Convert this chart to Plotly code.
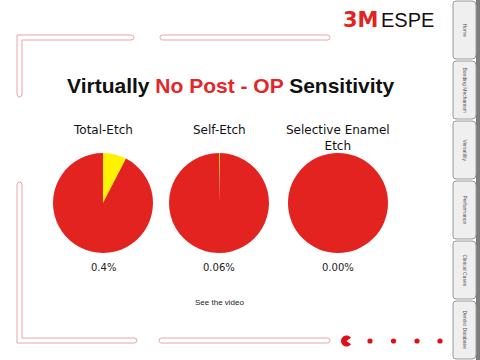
import math
import plotly.graph_objects as go

# ---------------- data ----------------
categories = ["Total-Etch", "Self-Etch", "Selective Enamel<br>Etch"]
sensitive_share = [7.6, 0.3, 0.0]          # visible slice size of post-op sensitivity (%)
reported_labels = ["0.4%", "0.06%", "0.00%"]
slice_names = ["Post-op sensitivity", "No sensitivity"]
tab_labels = ["Home", "Bonding Mechanism", "Versatility", "Performance",
              "Clinical Cases", "Dentist Database"]

# ---------------- style / layout ----------------
W, H = 480, 360
RED = "#E3231F"
YELLOW = "#FFF200"
PINK = "#E9A4A7"
pie_cx = [103, 219, 338]
pie_cy = 203
pie_r = 50

fig = go.Figure()

for i, cat in enumerate(categories):
    cx = pie_cx[i]
    fig.add_trace(go.Pie(
        values=[sensitive_share[i], 100 - sensitive_share[i]],
        labels=slice_names, sort=False, direction="clockwise", rotation=0,
        marker=dict(colors=[YELLOW, RED], line=dict(width=0)),
        textinfo="none", hoverinfo="skip", showlegend=False,
        domain=dict(x=[(cx - pie_r) / W, (cx + pie_r) / W],
                    y=[1 - (pie_cy + pie_r) / H, 1 - (pie_cy - pie_r) / H]),
    ))

ann = []
for i, cat in enumerate(categories):
    ann.append(dict(x=pie_cx[i], y=121, xref="x", yref="y", text=cat, showarrow=False,
                    xanchor="center", yanchor="top",
                    font=dict(family="DejaVu Sans", size=12, color="#111")))
    ann.append(dict(x=pie_cx[i], y=267, xref="x", yref="y", text=reported_labels[i],
                    showarrow=False, xanchor="center", yanchor="middle",
                    font=dict(family="DejaVu Sans", size=10, color="#222")))

ann.append(dict(x=230, y=85, xref="x", yref="y", showarrow=False,
                text="<b>Virtually <span style='color:#E3262A'>No Post - OP</span> Sensitivity</b>",
                font=dict(family="Liberation Sans", size=21, color="#111"),
                xanchor="center", yanchor="middle"))
ann.append(dict(x=381, y=20, xref="x", yref="y", showarrow=False, text="<b>3M</b>",
                font=dict(family="DejaVu Sans", size=21, color="#E3231F"),
                xanchor="right", yanchor="middle"))
ann.append(dict(x=379, y=20, xref="x", yref="y", showarrow=False, text="ESPE",
                font=dict(family="Liberation Sans Narrow, Liberation Sans", size=20, color="#111"),
                xanchor="left", yanchor="middle"))
ann.append(dict(x=219, y=302, xref="x", yref="y", showarrow=False, text="See the video",
                font=dict(family="Liberation Sans", size=8, color="#222"),
                xanchor="center", yanchor="middle"))

shapes = []

def bar(x0, x1, y0, y1):
    r = (y1 - y0) / 2
    return dict(type="path", xref="x", yref="y",
                path=f"M {x0+r},{y0} L {x1-r},{y0} Q {x1},{y0} {x1},{y0+r} Q {x1},{y1} {x1-r},{y1} "
                     f"L {x0+r},{y1} Q {x0},{y1} {x0},{y0+r} Q {x0},{y0} {x0+r},{y0} Z",
                line=dict(color=PINK, width=1), fillcolor="rgba(0,0,0,0)")

# top-left L
shapes.append(dict(type="path", xref="x", yref="y",
                   path="M 17,94 L 17,35 L 131,35 Q 134,35 134,37.5 Q 134,40 131,40 L 22,40 L 22,94 "
                        "Q 22,97 19.5,97 Q 17,97 17,94 Z",
                   line=dict(color=PINK, width=1), fillcolor="rgba(0,0,0,0)"))
shapes.append(bar(160, 330, 35, 40))
# bottom-left L
shapes.append(dict(type="path", xref="x", yref="y",
                   path="M 17,185 Q 17,182 19.5,182 Q 22,182 22,185 L 22,338 L 134,338 "
                        "Q 137,338 137,340.5 Q 137,343 134,343 L 17,343 Z",
                   line=dict(color=PINK, width=1), fillcolor="rgba(0,0,0,0)"))
shapes.append(bar(159, 330, 338, 343))

# pacman + dots
pc = (346.5, 341); pr = 5.5
pts = []
for k in range(0, 41):
    a = math.radians(35 + k * (290 / 40))
    pts.append(f"{pc[0] + pr*math.cos(a):.2f},{pc[1] - pr*math.sin(a):.2f}")
shapes.append(dict(type="path", xref="x", yref="y",
                   path=f"M {pc[0]},{pc[1]} L " + " L ".join(pts) + " Z",
                   line=dict(width=0), fillcolor="#E0101A"))
for dx in [370, 393.5, 417, 440]:
    shapes.append(dict(type="circle", xref="x", yref="y", x0=dx-2.6, x1=dx+2.6, y0=341-2.6, y1=341+2.6,
                       line=dict(width=0), fillcolor="#E0101A"))

# right tab panel
shapes.append(dict(type="rect", xref="x", yref="y", x0=476, x1=480, y0=0, y1=360,
                   line=dict(width=0), fillcolor="#7C7C7C"))
for i, lab in enumerate(tab_labels):
    y0 = i * 60 + 1
    y1 = i * 60 + 59
    shapes.append(dict(type="path", xref="x", yref="y",
                       path=f"M 453,{y0+3} Q 453,{y0} 456,{y0} L 472,{y0} Q 476,{y0} 476,{y0+4} "
                            f"L 476,{y1-4} Q 476,{y1} 472,{y1} L 456,{y1} Q 453,{y1} 453,{y1-3} Z",
                       line=dict(color="#9A9A9A", width=1), fillcolor="#EFEFEF"))
    ann.append(dict(x=464.5, y=i * 60 + 30, xref="x", yref="y", text=lab, showarrow=False,
                    textangle=90, font=dict(family="Liberation Sans", size=5, color="#555"),
                    xanchor="center", yanchor="middle"))

fig.update_layout(
    width=W, height=H, margin=dict(l=0, r=0, t=0, b=0),
    paper_bgcolor="white", plot_bgcolor="white",
    xaxis=dict(range=[0, W], visible=False, fixedrange=True, domain=[0, 1]),
    yaxis=dict(range=[H, 0], visible=False, fixedrange=True, domain=[0, 1]),
    annotations=ann, shapes=shapes, showlegend=False,
)
fig.write_html("out.html", config={"displayModeBar": False},
               post_script="document.body.style.margin='0px';")
